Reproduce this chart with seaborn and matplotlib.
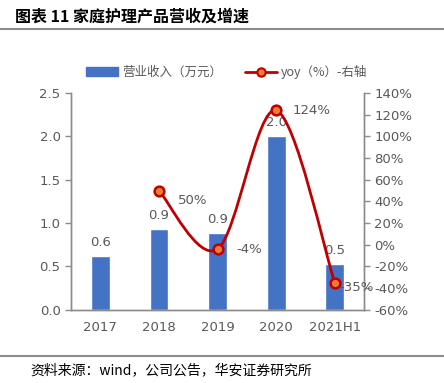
import numpy as np
import pandas as pd
import seaborn as sns
import matplotlib.pyplot as plt
from matplotlib.path import Path
from matplotlib.patches import PathPatch
from matplotlib.lines import Line2D
from matplotlib.ticker import FuncFormatter

# 数据
years = ['2017', '2018', '2019', '2020', '2021H1']
revenue = [0.62, 0.93, 0.89, 2.00, 0.53]
rev_labels = ['0.6', '0.9', '0.9', '2.0', '0.5']
yoy_years = ['2018', '2019', '2020', '2021H1']
yoy = [50, -4, 124, -35]

sns.set_style('white')
plt.rcParams['font.family'] = ['Noto Sans CJK SC', 'DejaVu Sans']

gray = '#595959'
axgray = '#8c8c8c'
blue = '#4472C4'
red = '#C00000'

fig = plt.figure(figsize=(4.44, 3.83), dpi=100)
ax = fig.add_axes([0.16, 0.191, 0.66, 0.566])

df = pd.DataFrame({'year': years, 'rev': revenue})
sns.barplot(data=df, x='year', y='rev', color=blue, saturation=1, width=0.32, ax=ax)
ax.set_xlim(-0.5, 4.5)
ax.set_ylim(0, 2.5)
ax.set_yticks(np.arange(0, 2.51, 0.5))
ax.yaxis.set_major_formatter(FuncFormatter(lambda v, p: f'{v:.1f}'))
ax.set_xlabel('')
ax.set_ylabel('')
for i, (v, lab) in enumerate(zip(revenue, rev_labels)):
    ax.text(i, v + 0.08, lab, ha='center', va='bottom', fontsize=9.5, color=gray, family='DejaVu Sans')

# 右轴
ax2 = ax.twinx()
ax2.set_ylim(-60, 140)
ax2.set_yticks(np.arange(-60, 141, 20))
ax2.yaxis.set_major_formatter(FuncFormatter(lambda v, p: f'{v:.0f}%'))

xs = [years.index(y) for y in yoy_years]
pts = np.array(list(zip(xs, yoy)), dtype=float)
# 平滑曲线（贝塞尔）
verts = [pts[0]]
codes = [Path.MOVETO]
n = len(pts)
for i in range(n - 1):
    p_prev = pts[max(i - 1, 0)]
    p0 = pts[i]
    p1 = pts[i + 1]
    p_next = pts[min(i + 2, n - 1)]
    c1 = p0 + (p1 - p_prev) / 6
    c2 = p1 - (p_next - p0) / 6
    verts += [c1, c2, p1]
    codes += [Path.CURVE4] * 3
ax2.add_patch(PathPatch(Path(verts, codes), facecolor='none', edgecolor=red, lw=2, zorder=3))
ax2.plot(xs, yoy, linestyle='none', marker='o', ms=7, mfc='#ED7D31', mec=red, mew=1.8, zorder=4)

offsets = {0: (0.33, 50 - 9), 1: (0.32, -4 - 0.5), 2: (0.28, 124 + 0), 3: (0.07, -39.5)}
for k, (x, v) in enumerate(zip(xs, yoy)):
    dx, ty = offsets[k]
    ax2.text(x + dx, ty, f'{v}%', ha='left', va='center', fontsize=9.5, color=gray,
             family='DejaVu Sans', zorder=5)

for a in (ax, ax2):
    for s in ['left', 'right', 'bottom']:
        a.spines[s].set_color(axgray)
        a.spines[s].set_linewidth(1)
    a.spines['top'].set_visible(False)
    a.tick_params(axis='both', colors=axgray, labelcolor=gray, labelsize=9.5, length=4, width=1)
    for t in a.get_yticklabels():
        t.set_family('DejaVu Sans')
ax.tick_params(axis='y', left=True, direction='out')
ax2.tick_params(axis='y', right=True, direction='out')
ax.set_xticks(range(len(years)))
ax.set_xticklabels(years, family='DejaVu Sans')
ax.tick_params(axis='x', length=0, pad=8)
ax.set_xticks(np.arange(-0.5, 4.6, 1), minor=True)
ax.tick_params(axis='x', which='minor', length=4, color=axgray, direction='out')

# 图例
handles = [plt.Rectangle((0, 0), 1, 1, color=blue),
           Line2D([], [], color=red, lw=2, marker='o', ms=6, mfc='#ED7D31', mec=red, mew=1.5)]
fig.legend(handles, ['营业收入（万元）', 'yoy（%）-右轴'], loc='center', bbox_to_anchor=(0.51, 0.812),
           ncol=2, frameon=False, fontsize=9, labelcolor=gray, handlelength=2.6, columnspacing=1.8,
           handletextpad=0.3)

# 标题与来源
fig.text(0.034, 0.958, '图表 11 家庭护理产品营收及增速', fontsize=11.5, fontweight='bold', ha='left', va='center', color='black')
fig.add_artist(Line2D([0, 1], [0.924, 0.924], color='#8c8c8c', lw=1.5))
fig.add_artist(Line2D([0, 1], [0.07, 0.07], color='#8c8c8c', lw=1.5))
fig.text(0.068, 0.033, '资料来源：wind，公司公告，华安证券研究所', fontsize=10, ha='left', va='center', color='black')

fig.savefig('out.png', dpi=100)
